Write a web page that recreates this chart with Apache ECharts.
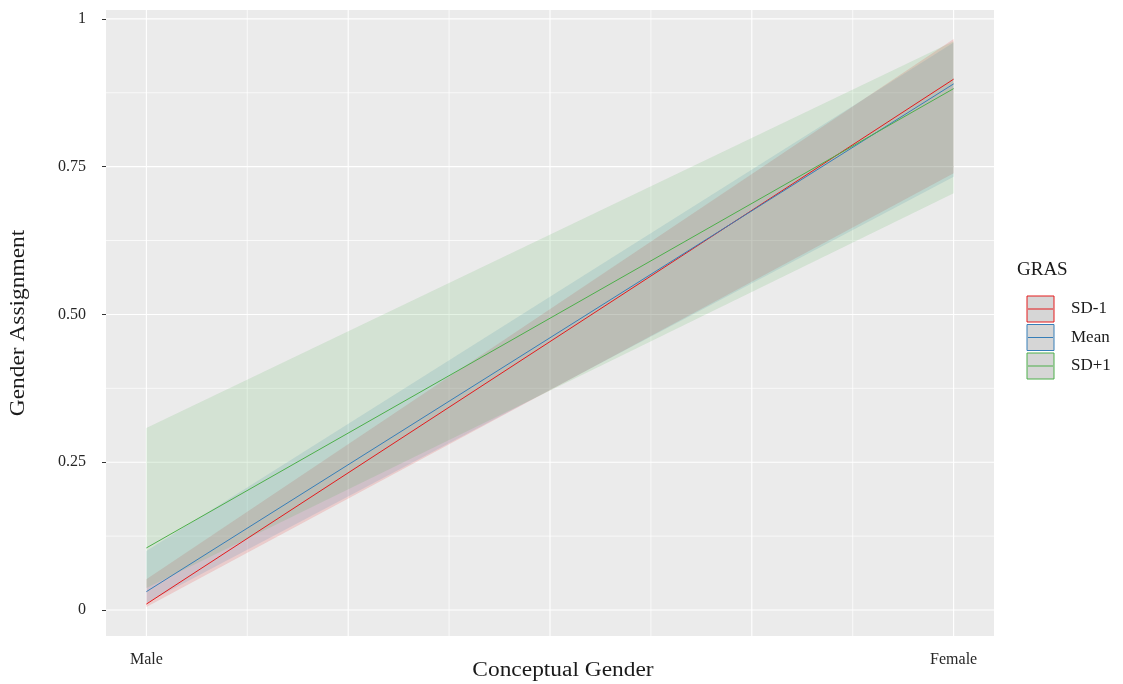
<!DOCTYPE html>
<html>
<head>
<meta charset="utf-8">
<script src="https://cdn.jsdelivr.net/npm/echarts@6/dist/echarts.min.js"></script>
<style>html,body{margin:0;padding:0;background:#fff}#c{width:1123px;height:684px}</style>
</head>
<body>
<div id="c"></div>
<script>
// ---- data ----
const xValues = [0, 1];
const xLabels = ['Male', 'Female'];
const groups = ['SD-1', 'Mean', 'SD+1'];
const colors = ['#E41A1C', '#377EB8', '#4DAF4A'];
const sdMinusFit = [0.010, 0.898];
const sdMinusLo  = [0.005, 0.739];
const sdMinusHi  = [0.052, 0.966];
const meanFit = [0.031, 0.890];
const meanLo  = [0.012, 0.733];
const meanHi  = [0.100, 0.960];
const sdPlusFit = [0.105, 0.882];
const sdPlusLo  = [0.037, 0.705];
const sdPlusHi  = [0.308, 0.962];
const yTicks = [0, 0.25, 0.5, 0.75, 1];
const yTickLabels = ['0', '0.25', '0.50', '0.75', '1'];
const gridValues = [0, 0.125, 0.25, 0.375, 0.5, 0.625, 0.75, 0.875, 1];

const fits = [sdMinusFit, meanFit, sdPlusFit];
const los = [sdMinusLo, meanLo, sdPlusLo];
const his = [sdMinusHi, meanHi, sdPlusHi];

const FONT = '"Liberation Serif", "DejaVu Serif", serif';
const X_MIN = -0.05, X_MAX = 1.05, Y_MIN = -0.044, Y_MAX = 1.015;

const chart = echarts.init(document.getElementById('c'));

const series = [];
// grid lines (custom)
series.push({
  type: 'custom', z: 1, silent: true,
  data: gridValues.map(v => [v]),
  renderItem: function (params, api) {
    const v = api.value(0);
    const a = api.coord([v, Y_MIN]), b = api.coord([v, Y_MAX]);
    const c = api.coord([X_MIN, v]), d = api.coord([X_MAX, v]);
    const major = (Math.round(v * 1000) % 250) === 0;
    const w = major ? 1.1 : 0.7;
    return { type: 'group', children: [
      { type: 'line', shape: { x1: a[0], y1: a[1], x2: b[0], y2: b[1] }, style: { stroke: '#FFFFFF', lineWidth: w } },
      { type: 'line', shape: { x1: c[0], y1: c[1], x2: d[0], y2: d[1] }, style: { stroke: '#FFFFFF', lineWidth: w } }
    ]};
  }
});
// ribbons
groups.forEach((g, gi) => {
  const lo = los[gi], hi = his[gi];
  series.push({
    type: 'custom', name: g + ' band', z: 2, silent: true,
    data: xValues.map((x, i) => [x, lo[i], hi[i]]),
    encode: { x: 0, y: [1, 2] },
    renderItem: function (params, api) {
      const i = params.dataIndex;
      if (i >= xValues.length - 1) return null;
      const p1 = api.coord([xValues[i], lo[i]]);
      const p2 = api.coord([xValues[i + 1], lo[i + 1]]);
      const p3 = api.coord([xValues[i + 1], hi[i + 1]]);
      const p4 = api.coord([xValues[i], hi[i]]);
      return { type: 'polygon', shape: { points: [p1, p2, p3, p4] },
        style: { fill: colors[gi], opacity: 0.15 } };
    }
  });
});
// fitted lines
groups.forEach((g, gi) => {
  series.push({
    type: 'line', name: g, z: 3, silent: true,
    data: xValues.map((x, i) => [x, fits[gi][i]]),
    symbol: 'none',
    lineStyle: { color: colors[gi], width: 1 },
    itemStyle: { color: colors[gi] }
  });
});

// legend + axis titles (graphic)
const els = [{
  type: 'text', x: 1017, y: 270,
  style: { text: 'GRAS', font: '19px ' + FONT, fill: '#1a1a1a', verticalAlign: 'middle' }
}];
groups.forEach((g, gi) => {
  const y0 = 296 + gi * 28.5;
  els.push({ type: 'rect', shape: { x: 1027, y: y0, width: 27, height: 26 },
    style: { fill: '#D6D6D6', stroke: colors[gi], lineWidth: 1 } });
  els.push({ type: 'line', shape: { x1: 1028, y1: y0 + 13, x2: 1053, y2: y0 + 13 },
    style: { stroke: colors[gi], lineWidth: 1 } });
  els.push({ type: 'text', x: 1071, y: y0 + 13,
    style: { text: g, font: '17px ' + FONT, fill: '#1a1a1a', verticalAlign: 'middle' } });
});
els.push({ type: 'text', x: 563, y: 671, scaleX: 1.17,
  style: { text: 'Conceptual Gender', font: '20px ' + FONT, fill: '#1a1a1a', align: 'center', verticalAlign: 'middle' } });
els.push({ type: 'text', x: 19, y: 323, rotation: Math.PI / 2, scaleX: 1.17,
  style: { text: 'Gender Assignment', font: '20px ' + FONT, fill: '#1a1a1a', align: 'center', verticalAlign: 'middle' } });

chart.setOption({
  animation: false,
  backgroundColor: '#FFFFFF',
  grid: { left: 106, right: 129, top: 10, bottom: 48, show: true, backgroundColor: '#EBEBEB', borderWidth: 0 },
  xAxis: {
    type: 'value', min: X_MIN, max: X_MAX,
    axisLine: { show: false, onZero: false }, splitLine: { show: false },
    axisTick: { show: false },
    axisLabel: {
      customValues: xValues, margin: 16,
      formatter: v => { const i = xValues.indexOf(v); return i >= 0 ? xLabels[i] : ''; },
      fontFamily: FONT, fontSize: 16, color: '#262626'
    }
  },
  yAxis: {
    type: 'value', min: Y_MIN, max: Y_MAX,
    axisLine: { show: false, onZero: false }, splitLine: { show: false },
    axisTick: { show: true, customValues: yTicks, length: 4, lineStyle: { color: '#333333', width: 1 } },
    axisLabel: {
      customValues: yTicks, margin: 20,
      formatter: v => { const i = yTicks.findIndex(t => Math.abs(t - v) < 1e-9); return i >= 0 ? yTickLabels[i] : ''; },
      fontFamily: FONT, fontSize: 16, color: '#262626'
    }
  },
  graphic: els,
  series: series
});
</script>
</body>
</html>
